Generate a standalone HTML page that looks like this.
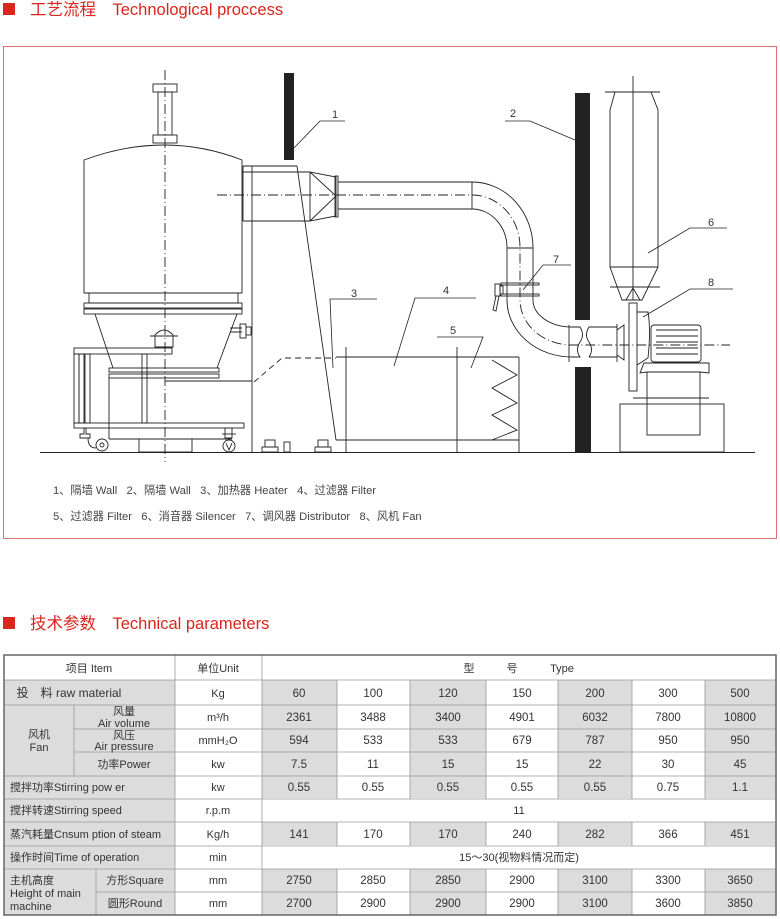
<!DOCTYPE html>
<html><head><meta charset="utf-8"><style>
html,body{margin:0;padding:0;background:#fff;width:780px;height:919px;overflow:hidden}
svg{display:block}
.pre{white-space:pre}
</style></head><body>
<svg width="780" height="919" viewBox="0 0 780 919" xmlns="http://www.w3.org/2000/svg" font-family="'Liberation Sans','Noto Sans CJK SC',sans-serif">
<rect x="3" y="3" width="12" height="12" fill="#d9261c"/>
<text x="30" y="15" font-size="16.5" fill="#d9261c">工艺流程　Technological proccess</text>
<rect x="3" y="617" width="12" height="12" fill="#d9261c"/>
<text x="30" y="629" font-size="16.5" fill="#d9261c">技术参数　Technical parameters</text>
<rect x="3.5" y="46.5" width="773" height="492" fill="none" stroke="#e07070" stroke-width="1"/>

<g fill="none" stroke="#222" stroke-width="0.9">
<line x1="40" y1="452.5" x2="755" y2="452.5"/>
<line x1="165" y1="70" x2="165" y2="462" stroke-dasharray="10,3,1,3"/>
<rect x="153" y="84" width="24" height="8"/>
<rect x="158" y="92" width="14" height="43"/>
<rect x="153" y="135" width="24" height="8"/>
<path d="M84,160 Q165,130 242,160 L242,293 L84,293 Z"/>
<rect x="89" y="293" width="149" height="10"/>
<rect x="84" y="303" width="158" height="5"/>
<rect x="84" y="309" width="158" height="5"/>
<path d="M95,314 L113,368 M237,314 L217,368"/>
<rect x="109" y="368" width="110" height="4"/>
<rect x="109" y="374" width="110" height="4"/>
<path d="M155,347 L155,335 Q164,325 173,335 L173,347 Z"/>
<line x1="150" y1="336" x2="178" y2="336"/>
<path d="M230,328 L242,328 M230,332 L242,332"/>
<rect x="240" y="324" width="6" height="14"/>
<rect x="246" y="327" width="5" height="8"/>
<rect x="74" y="348" width="98" height="6"/>
<rect x="74" y="354" width="5" height="69"/>
<rect x="79" y="354" width="5" height="69"/>
<rect x="85" y="354" width="5" height="69"/>
<rect x="142" y="354" width="5" height="69"/>
<rect x="74" y="423" width="170" height="5"/>
<line x1="109" y1="378" x2="109" y2="439"/>
<line x1="109" y1="439" x2="232" y2="439"/>
<rect x="139" y="439" width="53" height="13"/>
<path d="M84,428 L84,434 L80,434 L80,438 L90,438 L90,434 L86,434 L86,428"/>
<path d="M88,438 Q88,448 96,448"/>
<circle cx="102" cy="445" r="6"/><circle cx="102" cy="445" r="2"/>
<rect x="225" y="428" width="7" height="10"/>
<line x1="222" y1="434" x2="236" y2="434"/>
<circle cx="229" cy="446" r="6"/><path d="M226,443 L229,450 L232,443"/>
<line x1="165" y1="381" x2="252" y2="381"/>
<line x1="252" y1="166" x2="252" y2="452"/>
<line x1="243" y1="166" x2="297" y2="166"/>
<line x1="243" y1="172" x2="310" y2="172"/>
<line x1="243" y1="221" x2="310" y2="221"/>
<line x1="243" y1="166" x2="243" y2="221"/>
<line x1="297" y1="166" x2="336" y2="440"/>
<line x1="336" y1="440" x2="519" y2="440"/>
<rect x="265" y="440" width="10" height="7"/><rect x="262" y="447" width="16" height="5"/>
<rect x="284" y="442" width="6" height="10"/>
<rect x="318" y="440" width="10" height="7"/><rect x="315" y="447" width="16" height="5"/>
<path d="M310,172 L310,221 L336,216 L336,177 Z"/>
<path d="M310,172 L336,196 L310,221"/>
<rect x="335" y="176" width="3" height="41"/>
<line x1="338" y1="182" x2="472" y2="182"/>
<line x1="338" y1="209" x2="472" y2="209"/>
<line x1="472" y1="182" x2="472" y2="209"/>
<path d="M472,182 A61,66 0 0 1 533,248"/>
<path d="M472,209 A35,39 0 0 1 507,248"/>
<line x1="507" y1="248" x2="533" y2="248"/>
<line x1="507" y1="248" x2="507" y2="300"/>
<line x1="533" y1="248" x2="533" y2="300"/>
<rect x="501" y="283" width="38" height="2"/>
<rect x="501" y="294" width="38" height="2"/>
<path d="M507,300 A65,57 0 0 0 572,357"/>
<path d="M533,300 A39,27 0 0 0 572,327"/>
<line x1="569" y1="325" x2="569" y2="362"/>
<path d="M572,327 L580,327 Q585,335 580,342 Q575,350 580,357 L572,357"/>
<path d="M589,327 Q584,335 589,342 Q594,350 589,357"/>
<line x1="589" y1="327" x2="617" y2="327"/>
<line x1="589" y1="357" x2="617" y2="357"/>
<line x1="617" y1="324" x2="617" y2="362"/>
<path d="M617,330 L624,325 L624,360 L617,355"/>
<path d="M217,195 L470,195" stroke-dasharray="10,3,1,3"/>
<path d="M472,195 A48,52 0 0 1 520,248 L520,300 A52,45 0 0 0 572,345 L730,345" stroke-dasharray="10,3,1,3"/>
<rect x="495" y="284" width="5" height="12"/>
<rect x="500" y="286" width="3" height="8"/>
<path d="M496,296 L493,310 L496,311 L499,296"/>
<line x1="336" y1="357" x2="519" y2="357"/>
<line x1="346" y1="347" x2="346" y2="452"/>
<line x1="457" y1="347" x2="457" y2="452"/>
<line x1="519" y1="357" x2="519" y2="452"/>
<path d="M492,360 L517,375 L492,388 L517,403 L492,415 L517,430 L492,440"/>
<path d="M254,382 L282,358 L336,358" stroke-dasharray="6,4"/>
<line x1="633" y1="76" x2="633" y2="300"/>
<path d="M615,92 L651,92 L658,110 L658,267 L642,300 L622,300 L610,267 L610,110 Z"/>
<line x1="605" y1="92" x2="660" y2="92"/>
<line x1="610" y1="267" x2="658" y2="267"/>
<line x1="610" y1="287" x2="660" y2="287"/>
<path d="M626,300 L633,288 L640,300"/>
<rect x="629" y="303" width="8" height="88"/>
<path d="M637,312 L648,312 Q651,330 648,358 L637,365"/>
<rect x="651" y="325" width="50" height="37" rx="3"/>
<path d="M656,330 L698,330 M656,336 L698,336 M656,342 L698,342 M656,348 L698,348 M656,354 L698,354"/>
<path d="M644,363 L709,363 L709,373 L700,372 L647,372 L640,373 Z"/>
<rect x="647" y="372" width="53" height="63"/>
<line x1="633" y1="398" x2="709" y2="398"/>
<rect x="620" y="404" width="104" height="48"/>
</g>
<rect x="284" y="73" width="10" height="87" fill="#222"/>
<rect x="575" y="93" width="15" height="227" fill="#222"/>
<rect x="575" y="367" width="16" height="85" fill="#222"/>
<g fill="none" stroke="#222" stroke-width="0.8">
<path d="M345,121 L320,121 L294,148"/>
<path d="M505,121 L530,121 L575,140"/>
<path d="M377,299 L330,299 L333,368"/>
<path d="M476,298 L415,298 L394,366"/>
<path d="M437,337 L483,337 L471,368"/>
<path d="M727,228 L690,228 L648,253"/>
<path d="M571,265 L543,265 L523,290"/>
<path d="M733,289 L690,289 L643,317"/>
</g>
<g font-size="11" fill="#333">
<text x="332" y="118">1</text><text x="510" y="117">2</text><text x="351" y="297">3</text>
<text x="443" y="294">4</text><text x="450" y="334">5</text><text x="708" y="226">6</text>
<text x="553" y="263">7</text><text x="708" y="286">8</text>
</g>
<g font-size="11.2" fill="#444">
<text class="pre" x="53" y="494">1、隔墙 Wall   2、隔墙 Wall   3、加热器 Heater   4、过滤器 Filter</text>
<text class="pre" x="53" y="520">5、过滤器 Filter   6、消音器 Silencer   7、调风器 Distributor   8、风机 Fan</text>
</g>

<g fill="#dcdcdc">
<rect x="4" y="680" width="171" height="235"/>
<rect x="262" y="680" width="75" height="118"/><rect x="262" y="822" width="75" height="23"/><rect x="262" y="869" width="75" height="46"/>
<rect x="410" y="680" width="76" height="118"/><rect x="410" y="822" width="76" height="23"/><rect x="410" y="869" width="76" height="46"/>
<rect x="558" y="680" width="74" height="118"/><rect x="558" y="822" width="74" height="23"/><rect x="558" y="869" width="74" height="46"/>
<rect x="705" y="680" width="71" height="118"/><rect x="705" y="822" width="71" height="23"/><rect x="705" y="869" width="71" height="46"/>
</g>
<g stroke="#999" stroke-width="0.8" fill="none">
<path d="M4,680H776 M4,705H776 M74,729H776 M74,752H776 M4,776H776 M4,799H776 M4,822H776 M4,846H776 M4,869H776 M96,892H776"/>
<path d="M175,655V915 M262,655V915 M74,705V776 M96,869V915"/>
<path d="M337,680V799 M410,680V799 M486,680V799 M558,680V799 M632,680V799 M705,680V799"/>
<path d="M337,822V846 M410,822V846 M486,822V846 M558,822V846 M632,822V846 M705,822V846"/>
<path d="M337,869V915 M410,869V915 M486,869V915 M558,869V915 M632,869V915 M705,869V915"/>
</g>
<rect x="4" y="655" width="772" height="260" fill="none" stroke="#666" stroke-width="1.5"/>
<g font-size="11" fill="#333" text-anchor="middle">
<text x="89" y="672">项目 Item</text><text x="218" y="672">单位Unit</text>
<text x="469" y="672">型</text><text x="512" y="672">号</text><text x="562" y="672">Type</text>
<text x="69" y="697" font-size="12">投　料 raw material</text>
<text x="124" y="715">风量</text><text x="124" y="727">Air volume</text>
<text x="124" y="739">风压</text><text x="124" y="750">Air pressure</text>
<text x="39" y="738">风机</text><text x="39" y="751">Fan</text>
<text x="124" y="768">功率Power</text>
<text x="218" y="697">Kg</text><text x="218" y="721">m³/h</text><text x="218" y="744">mmH₂O</text>
<text x="218" y="768">kw</text><text x="218" y="791">kw</text><text x="218" y="814">r.p.m</text>
<text x="218" y="838">Kg/h</text><text x="218" y="861">min</text><text x="218" y="884">mm</text><text x="218" y="907">mm</text>
<text x="519" y="814">11</text><text x="519" y="861">15～30(视物料情况而定)</text>
<text x="135" y="884">方形Square</text><text x="135" y="907">圆形Round</text>
</g>
<g font-size="11" fill="#333">
<text x="10" y="791">搅拌功率Stirring pow er</text>
<text x="10" y="814">搅拌转速Stirring speed</text>
<text x="10" y="838">蒸汽耗量Cnsum ption of steam</text>
<text x="10" y="861">操作时间Time of operation</text>
<text x="10" y="884">主机高度</text><text x="10" y="897">Height of main</text><text x="10" y="910">machine</text>
</g>
<g font-size="11.5" fill="#333" text-anchor="middle">
<g transform="translate(0,697)"><text x="299">60</text><text x="373">100</text><text x="448">120</text><text x="522">150</text><text x="595">200</text><text x="668">300</text><text x="740">500</text></g>
<g transform="translate(0,721)"><text x="299">2361</text><text x="373">3488</text><text x="448">3400</text><text x="522">4901</text><text x="595">6032</text><text x="668">7800</text><text x="740">10800</text></g>
<g transform="translate(0,744)"><text x="299">594</text><text x="373">533</text><text x="448">533</text><text x="522">679</text><text x="595">787</text><text x="668">950</text><text x="740">950</text></g>
<g transform="translate(0,768)"><text x="299">7.5</text><text x="373">11</text><text x="448">15</text><text x="522">15</text><text x="595">22</text><text x="668">30</text><text x="740">45</text></g>
<g transform="translate(0,791)"><text x="299">0.55</text><text x="373">0.55</text><text x="448">0.55</text><text x="522">0.55</text><text x="595">0.55</text><text x="668">0.75</text><text x="740">1.1</text></g>
<g transform="translate(0,838)"><text x="299">141</text><text x="373">170</text><text x="448">170</text><text x="522">240</text><text x="595">282</text><text x="668">366</text><text x="740">451</text></g>
<g transform="translate(0,884)"><text x="299">2750</text><text x="373">2850</text><text x="448">2850</text><text x="522">2900</text><text x="595">3100</text><text x="668">3300</text><text x="740">3650</text></g>
<g transform="translate(0,907)"><text x="299">2700</text><text x="373">2900</text><text x="448">2900</text><text x="522">2900</text><text x="595">3100</text><text x="668">3600</text><text x="740">3850</text></g>
</g>
</svg>
</body></html>
